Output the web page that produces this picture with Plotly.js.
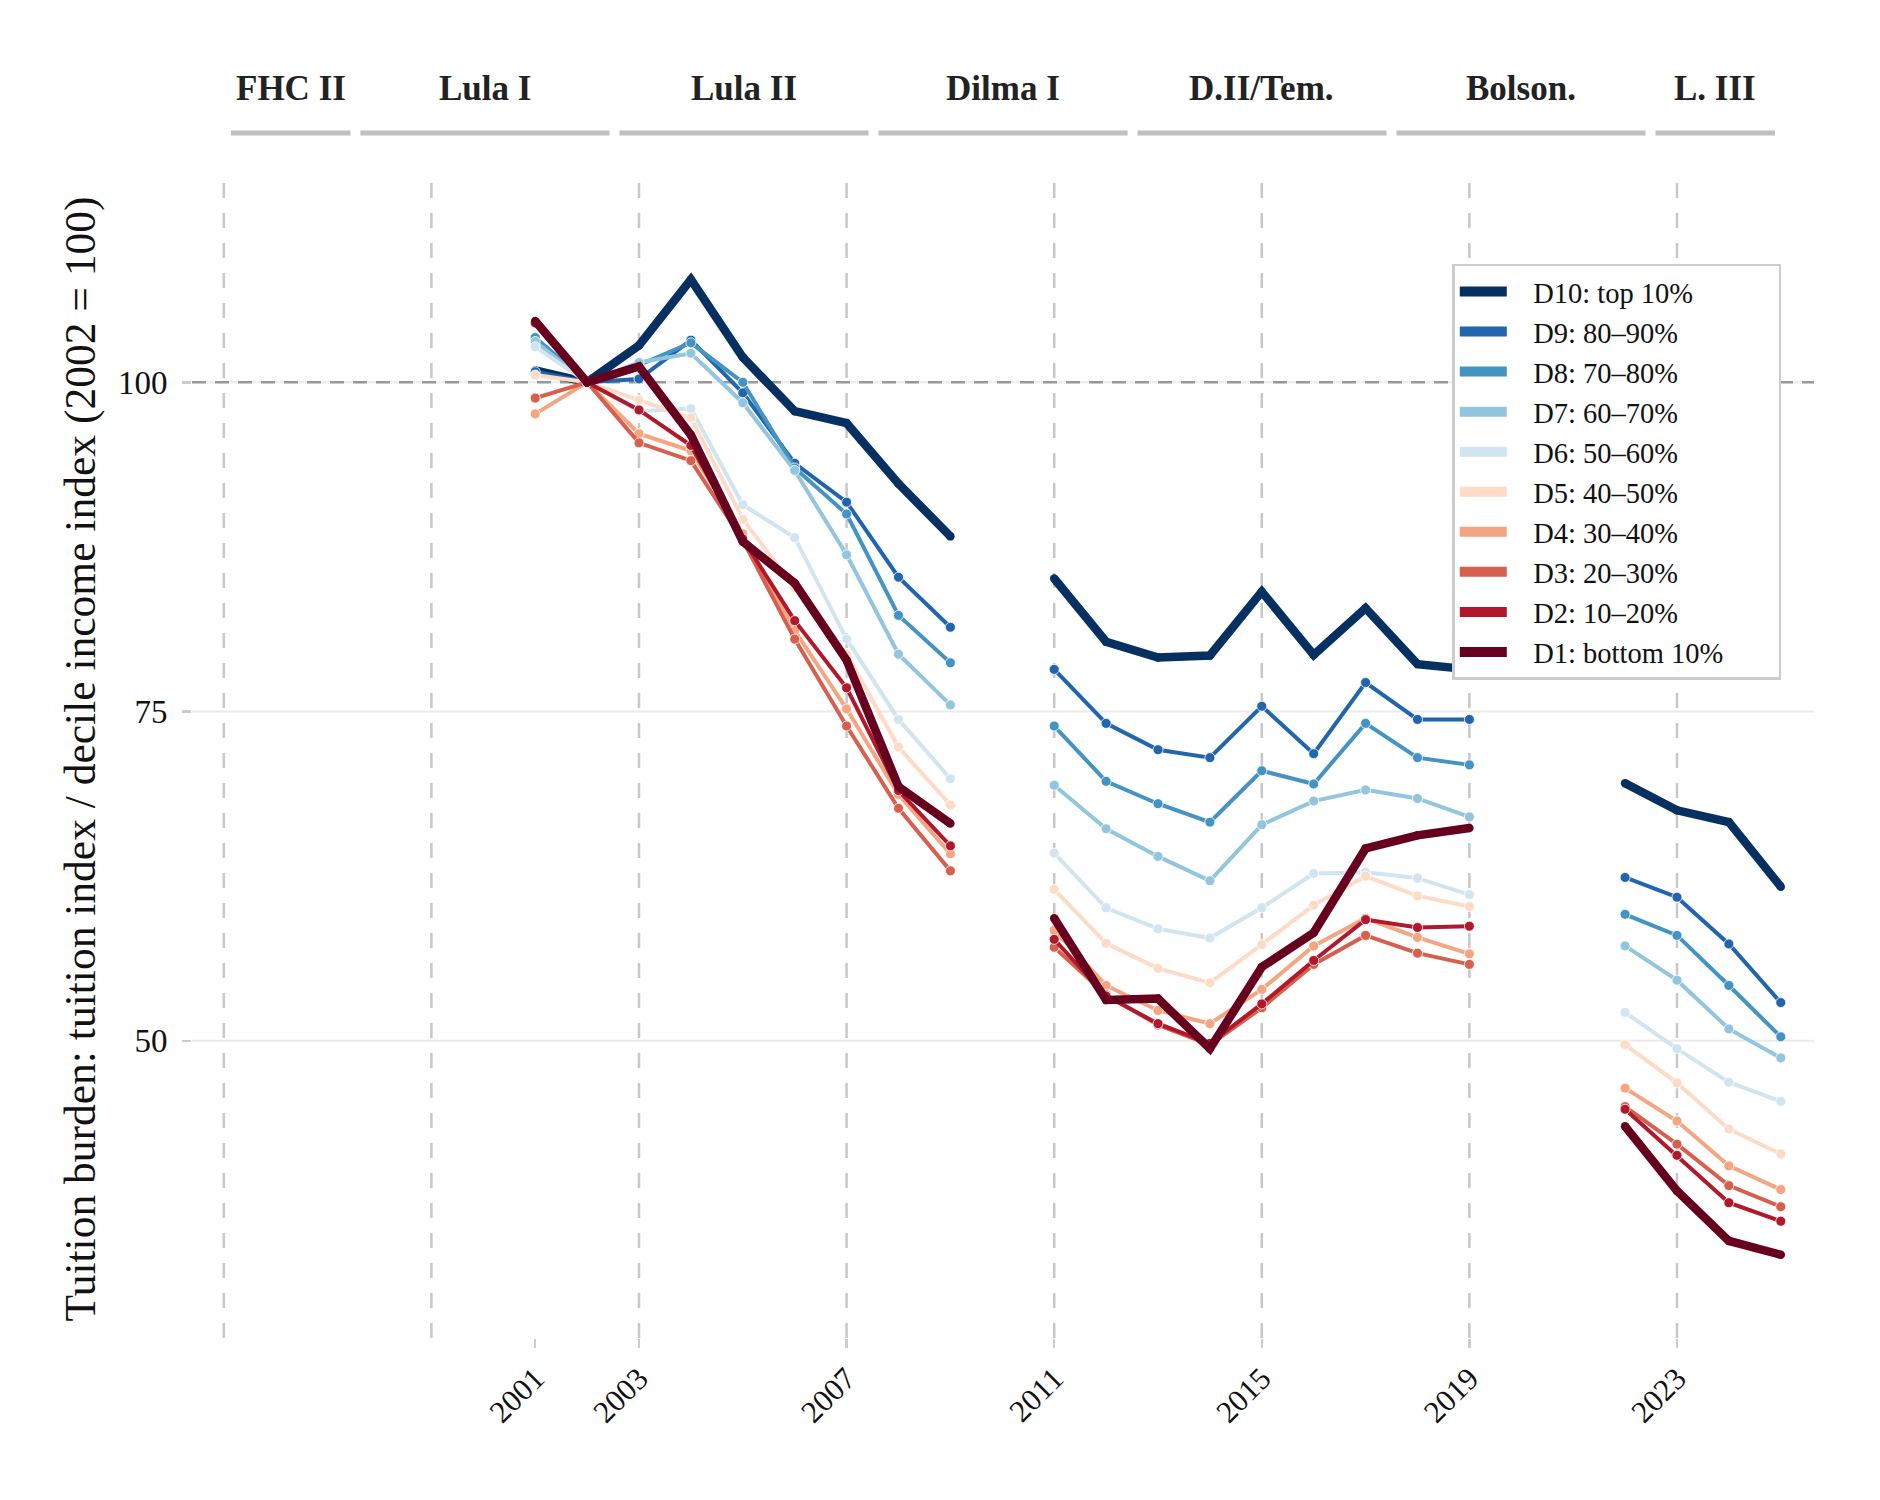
<!DOCTYPE html>
<html>
<head>
<meta charset="utf-8">
<script src="https://cdn.plot.ly/plotly-3.0.1.min.js"></script>
<style>
body { margin: 0; background: #ffffff; }
#chart { width: 1880px; height: 1500px; }
</style>
</head>
<body>
<div id="chart"></div>
<script>
const years = [2001, 2002, 2003, 2004, 2005, 2006, 2007, 2008, 2009, 2010, 2011, 2012, 2013,
	2014, 2015, 2016, 2017, 2018, 2019, 2020, 2021, 2022, 2023, 2024, 2025];

const d10 = [100.9, 100, 102.8, 107.8, 101.9, 97.8, 96.9, 92.3, 88.3, null, 85.1, 80.3, 79.1,
	79.25, 84.1, 79.3, 82.85, 78.6, 78.2, null, null, 69.55, 67.5, 66.6, 61.7];
const d9 = [100.8, 100, 100.25, 103.2, 99.2, 93.85, 90.9, 85.2, 81.4, null, 78.2, 74.1, 72.1,
	71.5, 75.4, 71.8, 77.2, 74.4, 74.4, null, null, 62.4, 60.9, 57.35, 52.9];
const d8 = [103.4, 100, 101.3, 103.0, 100.0, 93.5, 90.0, 82.3, 78.7, null, 73.9, 69.7, 68.0,
	66.6, 70.5, 69.5, 74.1, 71.5, 70.95, null, null, 59.6, 58.0, 54.2, 50.3];
const d7 = [103.1, 100, 101.5, 102.2, 98.45, 93.3, 86.9, 79.35, 75.5, null, 69.4, 66.1, 64.0,
	62.15, 66.4, 68.2, 69.05, 68.4, 67.0, null, null, 57.2, 54.6, 50.9, 48.7];
const d6 = [102.7, 100, 97.8, 98.0, 90.7, 88.2, 80.5, 74.4, 69.9, null, 64.25, 60.1, 58.5,
	57.8, 60.1, 62.7, 62.8, 62.35, 61.1, null, null, 52.15, 49.4, 46.85, 45.4];
const d5 = [100.55, 100, 98.65, 97.3, 89.6, 84.4, 79.35, 72.3, 67.9, null, 61.5, 57.4, 55.5,
	54.4, 57.3, 60.3, 62.5, 61.0, 60.2, null, null, 49.7, 46.8, 43.3, 41.4];
const d4 = [97.6, 100, 96.1, 94.8, 88.5, 81.15, 75.2, 68.7, 64.2, null, 58.4, 54.2, 52.3,
	51.3, 53.9, 57.2, 59.3, 57.85, 56.6, null, null, 46.4, 43.9, 40.5, 38.7];
const d3 = [98.8, 100, 95.4, 94.05, 88.0, 80.5, 73.9, 67.65, 62.9, null, 57.1, 53.5, 51.2,
	49.7, 52.5, 55.8, 58.0, 56.65, 55.8, null, null, 45.0, 42.15, 39.0, 37.4];
const d2 = [104.5, 100, 97.9, 95.2, 88.1, 81.9, 76.8, 69.0, 64.8, null, 57.7, 53.4, 51.3,
	49.8, 52.8, 56.1, 59.2, 58.6, 58.7, null, null, 44.8, 41.3, 37.7, 36.3];
const d1 = [104.66, 100, 101.2, 96.0, 87.9, 84.75, 78.9, 69.3, 66.5, null, 59.3, 53.1, 53.2,
	49.4, 55.6, 58.2, 64.6, 65.6, 66.15, null, null, 43.5, 38.6, 34.8, 33.75];

const decileNames = ["D10: top 10%", "D9: 80–90%", "D8: 70–80%", "D7: 60–70%", "D6: 50–60%",
	"D5: 40–50%", "D4: 30–40%", "D3: 20–30%", "D2: 10–20%", "D1: bottom 10%"];
const decileColors = ["#053061", "#2166ac", "#4393c3", "#92c5de", "#d1e5f0",
	"#fddbc7", "#f4a582", "#d6604d", "#b2182b", "#67001f"];
const decileData = [d10, d9, d8, d7, d6, d5, d4, d3, d2, d1];

const termNames = ["FHC II", "Lula I", "Lula II", "Dilma I", "D.II/Tem.", "Bolson.", "L. III"];
const termStart = [2001, 2003, 2007, 2011, 2015, 2019, 2023];
const termEnd = [2003, 2007, 2011, 2015, 2019, 2023, 2025];

const termLines = [1995, 1999, 2003, 2007, 2011, 2015, 2019, 2023];
const xTicks = [2001, 2003, 2007, 2011, 2015, 2019, 2023];
const yTicks = [50, 75, 100];
const baseLine = 100;

const font = "Liberation Serif, Times New Roman, serif";
const padLeft = "\u00a0\u00a0\u00a0";
const padRight = "\u00a0\u00a0\u00a0\u00a0\u00a0\u00a0\u00a0";

let traces = [];

for(let i = 0; i < decileData.length; i++){
	let thick = (i == 0 || i == decileData.length - 1);
	traces.push({
		x: years,
		y: decileData[i],
		type: 'scatter',
		mode: 'lines+markers',
		name: decileNames[i],
		showlegend: false,
		connectgaps: false,
		hoverinfo: 'skip',
		line: {color: decileColors[i], width: thick ? 8.5 : 4},
		marker: {color: decileColors[i], size: thick ? 8.5 : 10, line: {color: '#ffffff', width: thick ? 0 : 0.8}}
	});
}

for(let i = 0; i < decileData.length; i++){
	traces.push({
		x: [null],
		y: [null],
		type: 'scatter',
		mode: 'lines',
		name: padLeft + decileNames[i] + padRight,
		showlegend: true,
		line: {color: decileColors[i], width: 10}
	});
}

let barX = [];
let barY = [];
let gap = 0.077;
for(let i = 0; i < termNames.length; i++){
	barX.push(termStart[i] + gap, termEnd[i] - gap, null);
	barY.push(0.27, 0.27, null);
}
traces.push({
	x: barX,
	y: barY,
	xaxis: 'x2',
	yaxis: 'y2',
	type: 'scatter',
	mode: 'lines',
	showlegend: false,
	hoverinfo: 'skip',
	line: {color: '#c0c0c0', width: 5}
});

let shapes = [];
for(let i = 0; i < yTicks.length; i++){
	shapes.push({
		type: 'line', layer: 'below',
		xref: 'x domain', yref: 'y',
		x0: 0, x1: 1, y0: yTicks[i], y1: yTicks[i],
		line: {color: '#ebebeb', width: 2}
	});
}
for(let i = 0; i < termLines.length; i++){
	shapes.push({
		type: 'line', layer: 'below',
		xref: 'x', yref: 'y domain',
		x0: termLines[i], x1: termLines[i], y0: 0, y1: 1,
		line: {color: '#c8c8c8', width: 2.5, dash: '15px,15px'}
	});
}
shapes.push({
	type: 'line', layer: 'below',
	xref: 'x domain', yref: 'y',
	x0: 0, x1: 1, y0: baseLine, y1: baseLine,
	line: {color: '#999999', width: 2.5, dash: '14px,9px'}
});

let annotations = [];
for(let i = 0; i < termNames.length; i++){
	annotations.push({
		xref: 'x2', yref: 'y2',
		x: (termStart[i] + termEnd[i]) / 2, y: 0.71,
		text: '<b>' + termNames[i] + '</b>',
		showarrow: false,
		xanchor: 'center', yanchor: 'middle',
		font: {family: font, size: 35, color: '#222222'}
	});
}

let layout = {
	width: 1880,
	height: 1500,
	margin: {l: 192, r: 66, t: 60, b: 162},
	paper_bgcolor: '#ffffff',
	plot_bgcolor: '#ffffff',
	font: {family: font, color: '#111111'},
	showlegend: true,
	xaxis: {
		domain: [0, 1],
		range: [1994.387, 2025.64],
		tickvals: xTicks,
		ticktext: xTicks.map(String),
		tickangle: -45,
		ticks: 'outside',
		ticklen: 9,
		tickwidth: 2.5,
		tickcolor: '#cccccc',
		tickfont: {family: font, size: 31, color: '#111111'},
		showgrid: false,
		zeroline: false,
		showline: false,
		anchor: 'y'
	},
	yaxis: {
		domain: [0, 0.9061],
		range: [27.43, 115.36],
		tickvals: yTicks,
		ticks: 'outside',
		ticklen: 9,
		tickwidth: 2.5,
		tickcolor: '#cccccc',
		ticklabelstandoff: 8,
		tickfont: {family: font, size: 33, color: '#111111'},
		showgrid: false,
		zeroline: false,
		showline: false,
		anchor: 'x',
		title: {
			text: 'Tuition burden: tuition index / decile income index (2002 = 100)',
			font: {family: font, size: 43.5, color: '#111111'},
			standoff: 8
		}
	},
	xaxis2: {
		domain: [0.02096, 0.97904],
		range: [2001, 2025],
		anchor: 'y2',
		visible: false,
		fixedrange: true
	},
	yaxis2: {
		domain: [0.9218, 1],
		range: [0, 1],
		anchor: 'x2',
		visible: false,
		fixedrange: true
	},
	legend: {
		x: 0.777,
		y: 0.8404,
		xanchor: 'left',
		yanchor: 'top',
		bgcolor: '#ffffff',
		bordercolor: '#cccccc',
		borderwidth: 2.5,
		font: {family: font, size: 28.5, color: '#111111'},
		itemwidth: 47,
		tracegroupgap: 0
	},
	shapes: shapes,
	annotations: annotations
};

Plotly.newPlot('chart', traces, layout, {displayModeBar: false, staticPlot: true});
</script>
</body>
</html>
